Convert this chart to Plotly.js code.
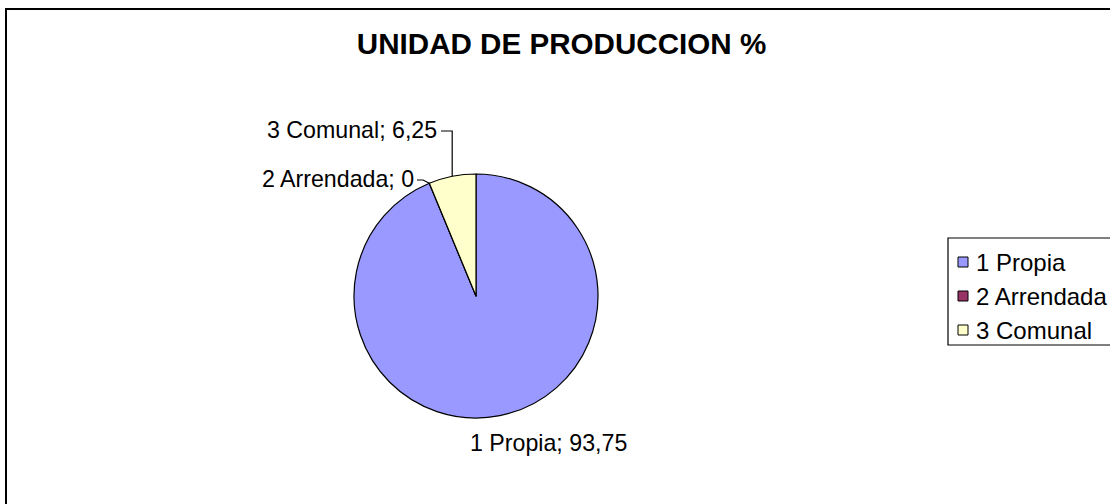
<!DOCTYPE html>
<html>
<head>
<meta charset="utf-8">
<script src="https://cdn.plot.ly/plotly-3.0.1.min.js"></script>
<style>html,body{margin:0;padding:0;background:#fff;}#chart{width:1110px;height:504px;}</style>
</head>
<body>
<div id="chart"></div>
<script>
// Data
const categories = ["1 Propia", "2 Arrendada", "3 Comunal"];
const values = [93.75, 0, 6.25];
const sliceColors = ["#9999FF", "#993366", "#FFFFCC"];
const chartTitle = "UNIDAD DE PRODUCCION %";

const W = 1110, H = 504;
const FONT = "Liberation Sans, Arial, sans-serif";
const px = x => x / W;
const py = y => 1 - y / H;

// pie placement (pixels)
const CX = 476, CY = 296, R = 122;

// point on the pie rim at a cumulative fraction (clockwise from 12 o'clock)
const total = values.reduce((a, b) => a + b, 0);
function rim(frac) {
  const a = frac * 2 * Math.PI;
  return [CX + R * Math.sin(a), CY - R * Math.cos(a)];
}
const cum = [];
let acc = 0;
values.forEach(v => { cum.push(acc / total); acc += v; });
const midFrac = values.map((v, i) => cum[i] + (v / total) / 2);

const fmt = v => String(v).replace('.', ',');
const labelText = categories.map((c, i) => c + "; " + fmt(values[i]));

const pComunal = rim(midFrac[2]);
const pArr = rim(midFrac[1]);

const shapes = [
  // chart border (top/left visible)
  {type: 'rect', xref: 'paper', yref: 'paper', x0: px(6), x1: 1.05, y0: -0.05, y1: py(9),
   line: {color: '#000', width: 2}, fillcolor: 'rgba(0,0,0,0)', layer: 'below'},
  // leader lines
  {type: 'path', xref: 'paper', yref: 'paper',
   path: `M ${px(441)} ${py(131)} L ${px(pComunal[0])} ${py(131)} L ${px(pComunal[0])} ${py(pComunal[1])}`,
   line: {color: '#000', width: 1.2}},
  {type: 'path', xref: 'paper', yref: 'paper',
   path: `M ${px(417)} ${py(180)} L ${px(423)} ${py(180)} L ${px(pArr[0])} ${py(pArr[1])}`,
   line: {color: '#000', width: 1.2}},
  // legend box
  {type: 'rect', xref: 'paper', yref: 'paper', x0: px(948), x1: px(1120), y0: py(345), y1: py(238),
   line: {color: '#000', width: 1.2}, fillcolor: '#fff'}
];

const LBL = 23.2;
const annotations = [
  {text: labelText[2], xref: 'paper', yref: 'paper', x: px(439), y: py(130), xanchor: 'right', yanchor: 'middle', showarrow: false, font: {family: FONT, size: LBL, color: '#000'}},
  {text: labelText[1], xref: 'paper', yref: 'paper', x: px(416), y: py(179), xanchor: 'right', yanchor: 'middle', showarrow: false, font: {family: FONT, size: LBL, color: '#000'}},
  {text: labelText[0], xref: 'paper', yref: 'paper', x: px(548), y: py(443), xanchor: 'center', yanchor: 'middle', showarrow: false, font: {family: FONT, size: LBL, color: '#000'}}
];

// legend entries (manual, Excel-style)
const legRows = [262, 296, 330];
categories.forEach((c, i) => {
  const yc = legRows[i];
  shapes.push({type: 'rect', xref: 'paper', yref: 'paper', x0: px(958), x1: px(968), y0: py(yc + 5), y1: py(yc - 5),
               line: {color: '#000', width: 1}, fillcolor: sliceColors[i]});
  annotations.push({text: c, xref: 'paper', yref: 'paper', x: px(974), y: py(yc), xanchor: 'left', yanchor: 'middle',
                    showarrow: false, font: {family: FONT, size: 24, color: '#000'}});
});

const trace = {
  type: 'pie',
  labels: categories,
  values: values,
  sort: false,
  direction: 'clockwise',
  rotation: 0,
  marker: {colors: sliceColors, line: {color: '#000', width: 1.2}},
  textinfo: 'none',
  hoverinfo: 'label+value',
  showlegend: false,
  domain: {x: [px(CX - R), px(CX + R)], y: [py(CY + R), py(CY - R)]}
};

const layout = {
  width: W, height: H,
  margin: {l: 0, r: 0, t: 0, b: 0},
  paper_bgcolor: '#fff',
  font: {family: FONT, color: '#000'},
  title: {text: '<b>' + chartTitle + '</b>', x: px(561.5), xanchor: 'center', y: py(44), yanchor: 'middle', font: {family: FONT, size: 29.6, color: '#000'}},
  showlegend: false,
  shapes: shapes,
  annotations: annotations
};

Plotly.newPlot('chart', [trace], layout, {displayModeBar: false, staticPlot: true});
</script>
</body>
</html>
